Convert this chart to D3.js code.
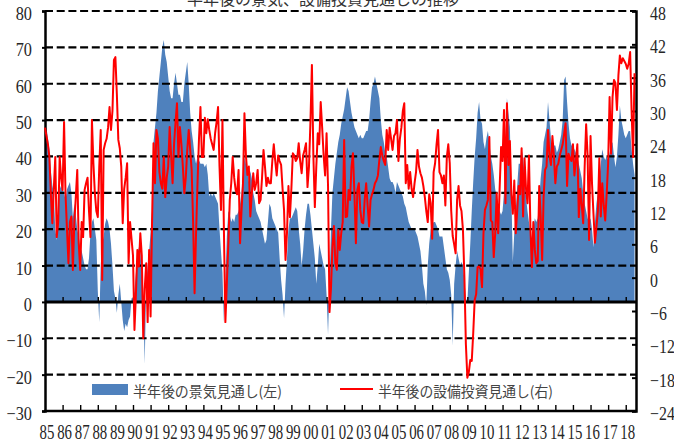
<!DOCTYPE html>
<html><head><meta charset="utf-8">
<script src="https://cdn.jsdelivr.net/npm/d3@7"></script>
<style>body{margin:0;background:#fff}svg{display:block}</style>
</head><body>
<svg id="c" width="674" height="443"></svg>
<script>
const title = "半年後の景気、設備投資見通しの推移";
const yearLabels = ["85","86","87","88","89","90","91","92","93","94","95","96","97","98","99","00","01","02","03","04","05","06","07","08","09","10","11","12","13","14","15","16","17","18"];
const leftTicks = [-30,-20,-10,0,10,20,30,40,50,60,70,80];
const rightTicks = [-24,-18,-12,-6,0,6,12,18,24,30,36,42,48];
const seriesNames = ["半年後の景気見通し(左)","半年後の設備投資見通し(右)"];

// 半年後の景気見通し (left axis), monthly from Jan 1985
const outlook = [
45,48,45,42,36,32,30,20,17,25,31,32,
31,30,28,31,32,33,30,23,27,24,20,18,
15,14,12,10,9,9,12,19,22,23,20,17,
3,-5.5,10,16,18,21.5,23,22,20,16,10,3,
1,-3,2,5,0,-5,-8,-6,-7,-5,-4,1,
1,3,8,13,15,14,8,0,-17,5,10,14,
19,25,44,48,52,58,62,66,70,72,68,66,
62,58,56,56,60,63,60,57,57,55,55,60,
63,66,60,52,47,44,40,38,40,39,38,38,
38,37,38,35,29,30,29,30,29,28,27,20,
14,8,-5.5,6,18,25,24,22,23,22,24,24,
25,27,30,35,40,38,36,33,36,34,30,28,
25,24,23,22,20,18,16,17,22,27,26,23,
22,21,20,19,12,6,2,-4.5,5,12,20,23,
23,24,25,26,25,20,16,10,14,20,24,27,
27,24,20,16,12,5,10,16,14,12,10,9,
2,-9,5,20,30,34,38,41,44,46,49,51,
53,56,59,58,55,52,50,48,47,46,45,46,
45,45,46,47,47,50,55,59,60,62,60,58,
56,50,46,44,41,40,37,34,33,33,32,30,
33,32,31,30,29,27,26,24,22,21,20,20,
20,19,18,16,14,10,5,3,-1,10,16,20,
21,22,22,21,20,18,18,18,15,12,9,8,
6,2,-12,5,10,14,12,10,11,10,6,1,
0,8,16,25,33,40,45,52,55,50,49,44,
42,45,47,44,40,38,35,31,29,27,25,24,
25,30,45,56,52,48,30,11,19,25,32,38,
38,42,40,35,29,25,22,19,17,20,23,22,
23,28,34,38,44,46,48,55,50,45,41,43,
43,41,42,44,46,50,61,62,55,49,45,43,
43,42,41,40,38,36,34,30,27,25,23,22,
23,20,15,22,27,30,34,38,42,40,39,40,
39,41,43,44,40,37,40,46,54,50,48,46,
45,46,47,47,42,38,35
];

// 半年後の設備投資見通し (right axis), monthly from Jan 1985
const capex = [
27,25.5,24,21.7,15,9.8,16,21.7,7.3,10,21.7,18,
15.8,28,15,8.6,2.6,10,11,1.4,10,14.5,19.4,6.2,
1.4,10,7.3,15.8,17,18,12,7.3,28.4,20.6,15.2,12,
10.9,20,26.6,-0.4,23,24.2,25,27,30.7,26.6,30,39.2,
39.7,33,24.8,23.3,20,9.8,16,18,20.6,2.6,10,7,
4,-9.4,-3,5,2,8,4,-10.9,-2,2.6,-8,5,
-7,10,24.2,17,26.6,25,19,17,16,21.7,14.5,18,
20,27.1,22,17,24,28,31.4,21.7,27.1,24,20,15.2,
18,23,26.6,23,19.4,10,-2.8,8,17,25,30.7,21.7,
21.7,28.8,26,28.5,26.6,25,24,23,26,28,30.7,20,
12.2,28.4,8.6,-8,-1,6,14,17,21.7,18,15.8,15,
19.4,6.2,12,17,29.6,22,18.5,20,11,15,18.8,15.8,
17,19.4,13.4,14,18,23,20,16.5,18,17,17,21,
24,21,18.4,22,21,20.3,16,12.2,3.2,8,16.5,10.9,
16,22.4,22,21,21.5,24.2,21,18.8,22,23,24.2,16.3,
20,28,38.3,22,12.7,20,26,24,31.6,27,22,18.4,
26,16.5,-6.2,-2,5.5,9.3,2.6,1.4,8.6,5,8,10,
24.8,10.9,11,15.8,14,20,22.4,15,6.2,15.8,17,12.2,
10,9.8,14,17,13,9.2,14,15,15.8,17,17.5,18.4,
21.2,23.5,22,21,20.3,26.6,23,27,25,23,25.5,26,
28.4,21,25,27,30,31.4,17,20.3,16,19,16,14.5,
17,19,23,20,18.8,18,16.5,14.5,12,10,15,13.4,
7,19,20.6,24,26.6,19,18.4,17,18.4,13,21.7,24,
20.6,12,7.5,6,4.4,14,16.5,13,12,8.6,0,-12,
-18,-17,-14.8,-15,-10,-4,-3,1.9,2,1.5,-1.7,8,
12.2,13,14,25.3,10.3,10,3.7,8,15.2,8,16,23.5,
21,30.2,13.4,31.4,20.3,24.6,15,11.5,17.5,8,12,16.5,
15,23.3,11,21.5,16,13.4,22,9,1.9,10,5,2.6,
3,16.5,11,3.2,14.5,19.4,20,26.6,22,20.3,25.5,22,
17,20,20.5,22,23,24,25.9,27.8,16.5,22.3,21.5,21,
24,18.4,21,24,10.9,16,13,9.8,20,27.6,22,6.8,
25.5,17,11.5,6.3,9,12,21.5,11,17,13,10.3,15,
20.6,32.5,22.3,32.5,35.6,35,30.2,36.4,40,38.6,39.5,39,
38.5,37.6,38.5,40.6,30,21.7,36.8
];

const L = 45, R = 636, T = 11, B = 411;
const svg = d3.select("#c");
const x = d3.scaleLinear().domain([0, 403]).range([L, R]);
const yL = d3.scaleLinear().domain([-30, 80]).range([B, T]);
const yR = d3.scaleLinear().domain([-24, 48]).range([B, T]);
const axisColor = "#262626";
const numFont = "'Liberation Serif', 'DejaVu Serif', serif";
const cjkFont = "'Noto Sans CJK JP', 'Noto Sans', sans-serif";

// area
svg.append("path").datum(outlook)
  .attr("d", d3.area().x((d, i) => x(i)).y0(yL(0)).y1(d => yL(d)))
  .attr("fill", "#4F81BD");

// dashed gridlines
svg.append("g").selectAll("line")
  .data(leftTicks.filter(t => t !== 0 && t !== -30))
  .join("line")
  .attr("x1", L).attr("x2", R)
  .attr("y1", d => yL(d)).attr("y2", d => yL(d))
  .attr("stroke", "#000").attr("stroke-width", 2.2)
  .attr("stroke-dasharray", "8,3.7");

// left axis
const gL = svg.append("g").attr("transform", `translate(${L},0)`)
  .call(d3.axisLeft(yL).tickValues(leftTicks).tickSize(3).tickPadding(10).tickFormat(d3.format("d")));
gL.select(".domain").attr("stroke", "#000").attr("stroke-width", 2.5);
gL.selectAll(".tick line").attr("stroke", "#000").attr("stroke-width", 2);
gL.selectAll(".tick text").each(function () {
  const t = d3.select(this); const xx = +t.attr("x");
  t.attr("x", 0).attr("dy", null).attr("y", 8.5)
   .attr("transform", `translate(${xx},0) scale(0.88,1)`);
}).attr("font-family", numFont).attr("font-size", 18.5).attr("fill", axisColor);

// right axis
const gR = svg.append("g").attr("transform", `translate(${R},0)`)
  .call(d3.axisLeft(yR).tickValues(rightTicks).tickSize(4).tickFormat(d3.format("d")));
gR.select(".domain").attr("stroke", "#000").attr("stroke-width", 2.5);
gR.selectAll(".tick line").attr("stroke", "#000").attr("stroke-width", 2);
gR.selectAll(".tick text").each(function () {
  const t = d3.select(this);
  t.attr("x", 0).attr("dy", null).attr("y", 8.5).attr("text-anchor", "start")
   .attr("transform", `translate(14,0) scale(0.86,1)`);
}).attr("font-family", numFont).attr("font-size", 18.5).attr("fill", axisColor);

// year ticks on zero line and bottom line
const xYear = d3.scaleLinear().domain([0, yearLabels.length]).range([x(0), x(yearLabels.length * 12)]);
const zeroAxis = svg.append("g").attr("transform", `translate(0,${yL(0)})`)
  .call(d3.axisTop(xYear).tickValues(d3.range(1, yearLabels.length)).tickSize(5).tickFormat(""));
zeroAxis.select(".domain").remove();
zeroAxis.selectAll(".tick line").attr("stroke", "#000").attr("stroke-width", 1.4);
svg.append("line").attr("x1", L).attr("x2", R).attr("y1", yL(0)).attr("y2", yL(0))
  .attr("stroke", "#000").attr("stroke-width", 3);

const botAxis = svg.append("g").attr("transform", `translate(0,${B})`)
  .call(d3.axisTop(xYear).tickValues(d3.range(1, yearLabels.length)).tickSize(6).tickFormat(""));
botAxis.select(".domain").remove();
botAxis.selectAll(".tick line").attr("stroke", "#000").attr("stroke-width", 1.4);
svg.append("line").attr("x1", L - 1).attr("x2", R + 1).attr("y1", B).attr("y2", B)
  .attr("stroke", "#000").attr("stroke-width", 2.5);

// year labels
svg.append("g").selectAll("text").data(yearLabels).join("text")
  .attr("transform", (d, i) => `translate(${xYear(i) + 2},438.5) scale(0.69,1)`)
  .attr("text-anchor", "middle")
  .attr("font-family", numFont).attr("font-size", 21.5).attr("fill", axisColor)
  .text(d => d);

// red line
svg.append("path").datum(capex)
  .attr("d", d3.line().x((d, i) => x(i)).y(d => yR(d)))
  .attr("fill", "none").attr("stroke", "#FF0000").attr("stroke-width", 2)
  .attr("stroke-linejoin", "round");

// title
svg.append("text").attr("x", 323).attr("y", 5).attr("text-anchor", "middle")
  .attr("font-family", cjkFont).attr("font-size", 16).attr("fill", "#333")
  .text(title);

// legend
const lg = svg.append("g");
lg.append("rect").attr("x", 92).attr("y", 384).attr("width", 36).attr("height", 11).attr("fill", "#4F81BD");
lg.append("text").attr("x", 133).attr("y", 390).attr("dominant-baseline", "central")
  .attr("font-family", cjkFont).attr("font-size", 14.5).attr("fill", "#444")
  .attr("textLength", 149).attr("lengthAdjust", "spacingAndGlyphs")
  .text(seriesNames[0]);
lg.append("line").attr("x1", 340).attr("x2", 373).attr("y1", 389).attr("y2", 389)
  .attr("stroke", "#FF0000").attr("stroke-width", 2);
lg.append("text").attr("x", 378).attr("y", 390).attr("dominant-baseline", "central")
  .attr("font-family", cjkFont).attr("font-size", 14.5).attr("fill", "#444")
  .attr("textLength", 175).attr("lengthAdjust", "spacingAndGlyphs")
  .text(seriesNames[1]);
</script>
</body></html>
